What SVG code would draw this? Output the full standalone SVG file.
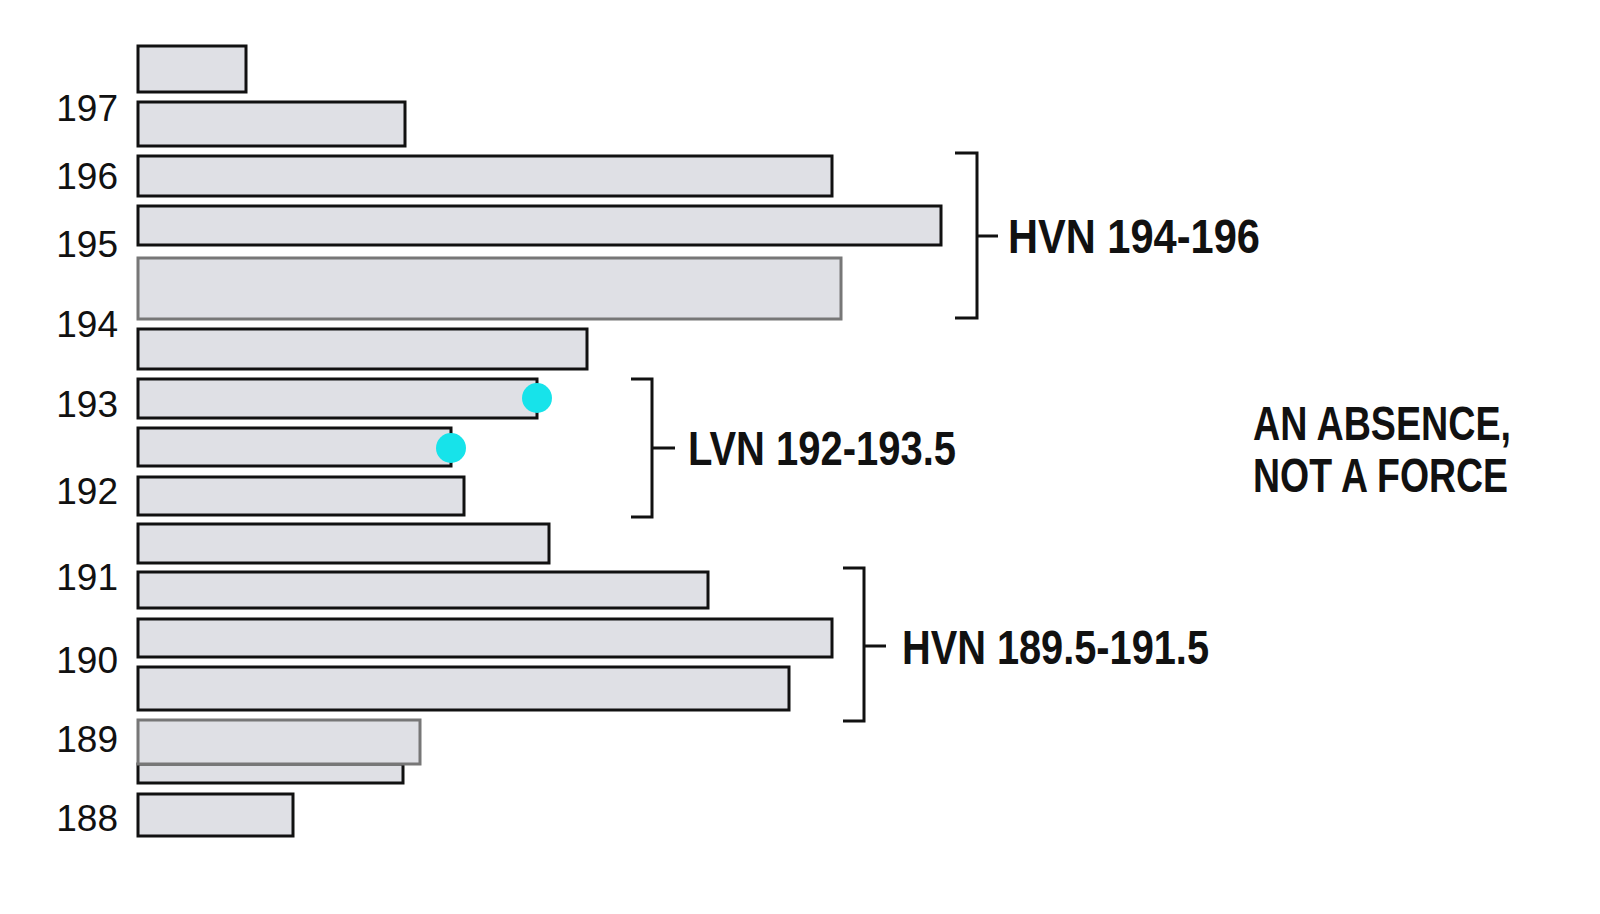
<svg xmlns="http://www.w3.org/2000/svg" width="1600" height="914" viewBox="0 0 1600 914">
<style>
.b{fill:#dfe0e5;stroke:#111;stroke-width:3}
.g{fill:#dfe0e5;stroke:#777;stroke-width:3}
.ax{font-family:"Liberation Sans",Arial,sans-serif;font-size:37px;fill:#111;text-anchor:end}
.lb{font-family:"Liberation Sans",Arial,sans-serif;font-weight:bold;font-size:48px;fill:#111}
.br{fill:none;stroke:#111;stroke-width:3}
.d{fill:#17e3ea}
</style>
<rect width="1600" height="914" fill="#fff"/>
<g id="bars">
<rect class="b" x="138" y="46" width="108" height="46"/>
<rect class="b" x="138" y="102" width="267" height="44"/>
<rect class="b" x="138" y="156" width="694" height="40"/>
<rect class="b" x="138" y="206" width="803" height="39"/>
<rect class="g" x="138" y="258" width="703" height="61"/>
<rect class="b" x="138" y="329" width="449" height="40"/>
<rect class="b" x="138" y="379" width="399" height="39"/>
<rect class="b" x="138" y="428" width="313" height="38"/>
<rect class="b" x="138" y="477" width="326" height="38"/>
<rect class="b" x="138" y="524" width="411" height="39"/>
<rect class="b" x="138" y="572" width="570" height="36"/>
<rect class="b" x="138" y="619" width="694" height="38"/>
<rect class="b" x="138" y="667" width="651" height="43"/>
<rect class="b" x="138" y="764" width="265" height="19"/>
<rect class="g" x="138" y="720" width="282" height="44"/>
<rect class="b" x="138" y="794" width="155" height="42"/>
</g>
<g id="axis">
<text class="ax" x="118" y="121">197</text>
<text class="ax" x="118" y="189">196</text>
<text class="ax" x="118" y="257">195</text>
<text class="ax" x="118" y="337">194</text>
<text class="ax" x="118" y="417">193</text>
<text class="ax" x="118" y="504">192</text>
<text class="ax" x="118" y="590">191</text>
<text class="ax" x="118" y="673">190</text>
<text class="ax" x="118" y="752">189</text>
<text class="ax" x="118" y="831">188</text>
</g>
<g id="dots">
<circle class="d" cx="537" cy="398" r="15"/>
<circle class="d" cx="451" cy="448" r="15"/>
</g>
<g id="connectors">
<path class="br" d="M955 153H977V318H955M977 236H998"/>
<path class="br" d="M631 379H652V517H631M652 448H675"/>
<path class="br" d="M843 568H864V721H843M864 646H886"/>
</g>
<g id="labels">
<text class="lb" x="1008" y="253" textLength="252" lengthAdjust="spacingAndGlyphs">HVN 194-196</text>
<text class="lb" x="688" y="465" textLength="268" lengthAdjust="spacingAndGlyphs">LVN 192-193.5</text>
<text class="lb" x="902" y="664" textLength="307" lengthAdjust="spacingAndGlyphs">HVN 189.5-191.5</text>
<text class="lb" x="1253" y="440" textLength="258" lengthAdjust="spacingAndGlyphs">AN ABSENCE,</text>
<text class="lb" x="1253" y="492" textLength="255" lengthAdjust="spacingAndGlyphs">NOT A FORCE</text>
</g>
</svg>
